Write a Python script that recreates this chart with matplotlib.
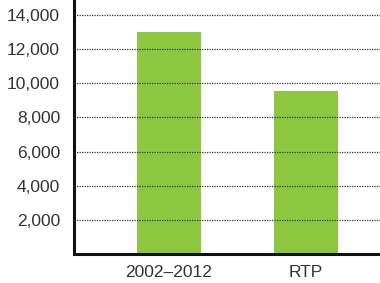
import matplotlib
matplotlib.use('Agg')
import matplotlib.pyplot as plt
from matplotlib.ticker import FuncFormatter

categories = ['2002–2012', 'RTP']
values = [13000, 9550]
yticks = [2000, 4000, 6000, 8000, 10000, 12000, 14000]

plt.rcParams['font.family'] = ['Liberation Sans', 'DejaVu Sans']

fig = plt.figure(figsize=(3.8, 2.83), dpi=100)
# axes: left spine at x=74px, bottom at y=254px, top at image top
ax = fig.add_axes([74/380, 1 - 254/283, 306/380, 254/283])

ax.bar(range(len(categories)), values, width=0.467, color='#8dc63f', zorder=1)

ax.set_xlim(-0.693, 1.54)
ax.set_ylim(0, 14000 * 254 / 239)
ax.set_yticks(yticks)
ax.yaxis.set_major_formatter(FuncFormatter(lambda v, p: f'{int(v):,}'))
ax.set_xticks(range(len(categories)))
ax.set_xticklabels(categories)

# dotted grid drawn over the bars
ax.grid(axis='y', linestyle=(0, (1, 1)), color='#333333', linewidth=0.9, zorder=2)
ax.set_axisbelow(False)

for s in ['top', 'right']:
    ax.spines[s].set_visible(False)
for s in ['left', 'bottom']:
    ax.spines[s].set_linewidth(2.2)
    ax.spines[s].set_color('#111111')

ax.tick_params(axis='both', length=0, labelsize=12.5, colors='#333333')
ax.tick_params(axis='y', pad=10)
ax.tick_params(axis='x', pad=8)

fig.savefig('out.png', dpi=100)
